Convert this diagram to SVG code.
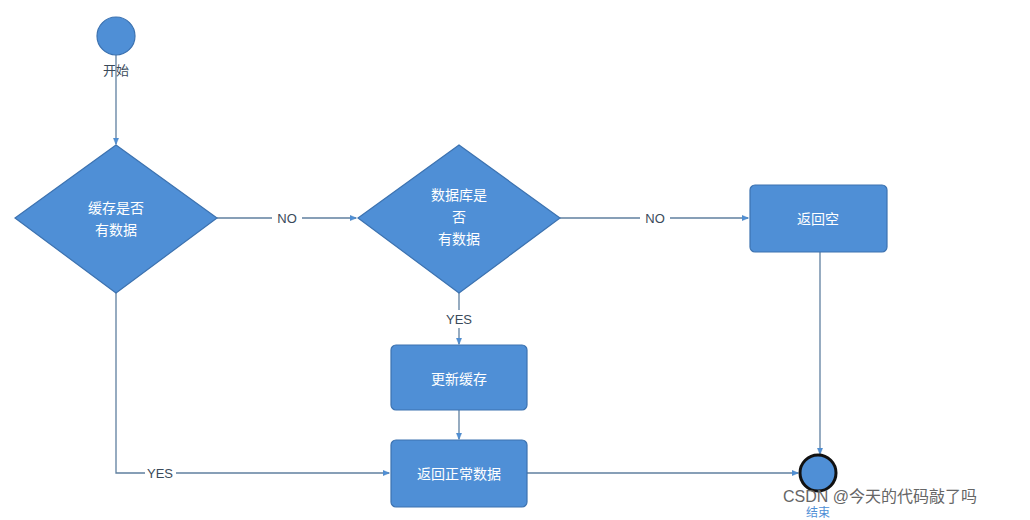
<svg xmlns="http://www.w3.org/2000/svg" width="1030" height="520" viewBox="0 0 1030 520">
<style>
.shape{fill:#4f8fd6;stroke:#3c72b0;stroke-width:1.2}
.lbl{font-family:"Liberation Sans","Noto Sans CJK SC",sans-serif;font-size:14px;fill:#ffffff;text-anchor:middle}
.dark{font-family:"Liberation Sans","Noto Sans CJK SC",sans-serif;font-size:13px;fill:#3a4a5a;text-anchor:middle}
.conn{fill:none;stroke:#5f7f9f;stroke-width:1.3}
</style>
<defs>
<marker id="arr" viewBox="0 0 10 10" refX="9" refY="5" markerWidth="7" markerHeight="7" orient="auto" markerUnits="userSpaceOnUse">
<path d="M0,1 L10,5 L0,9 Z" fill="#4f8fd6" stroke="#4f7fb0" stroke-width="0.5"/>
</marker>
</defs>
<rect width="1030" height="520" fill="#ffffff"/>
<g id="connectors">
<line class="conn" x1="116" y1="55" x2="116" y2="144" marker-end="url(#arr)"/>
<line class="conn" x1="217" y1="218" x2="272" y2="218"/>
<line class="conn" x1="302" y1="218" x2="356" y2="218" marker-end="url(#arr)"/>
<line class="conn" x1="560" y1="218" x2="640" y2="218"/>
<line class="conn" x1="670" y1="218" x2="748" y2="218" marker-end="url(#arr)"/>
<line class="conn" x1="459" y1="293" x2="459" y2="310"/>
<line class="conn" x1="459" y1="328" x2="459" y2="344" marker-end="url(#arr)"/>
<line class="conn" x1="459" y1="410" x2="459" y2="439" marker-end="url(#arr)"/>
<polyline class="conn" points="116,293 116,473 145,473"/>
<line class="conn" x1="176" y1="473" x2="389" y2="473" marker-end="url(#arr)"/>
<line class="conn" x1="527" y1="473" x2="798" y2="473" marker-end="url(#arr)"/>
<line class="conn" x1="820" y1="252" x2="820" y2="454" marker-end="url(#arr)"/>
<text class="dark" x="287" y="223">NO</text>
<text class="dark" x="655" y="223">NO</text>
<text class="dark" x="459" y="324">YES</text>
<text class="dark" x="160" y="478">YES</text>
</g>
<g id="start">
<circle class="shape" cx="116" cy="36" r="19"/>
<text class="dark" x="116" y="75">开始</text>
</g>
<g id="cache-check">
<polygon class="shape" points="116,145 217,218 116,293 15,218"/>
<text class="lbl" x="116" y="213">缓存是否</text>
<text class="lbl" x="116" y="235">有数据</text>
</g>
<g id="db-check">
<polygon class="shape" points="459,145 560,218 459,293 358,218"/>
<text class="lbl" x="459" y="200">数据库是</text>
<text class="lbl" x="459" y="222">否</text>
<text class="lbl" x="459" y="244">有数据</text>
</g>
<g id="return-empty">
<rect class="shape" x="750" y="185" width="137" height="67" rx="5"/>
<text class="lbl" x="818" y="224">返回空</text>
</g>
<g id="update-cache">
<rect class="shape" x="391" y="345" width="136" height="65" rx="5"/>
<text class="lbl" x="459" y="384">更新缓存</text>
</g>
<g id="return-data">
<rect class="shape" x="391" y="440" width="136" height="67" rx="5"/>
<text class="lbl" x="459" y="479">返回正常数据</text>
</g>
<g id="end">
<circle cx="818" cy="473" r="18" fill="#4f8fd6" stroke="#111111" stroke-width="3"/>
<text class="dark" x="818" y="517" style="fill:#4f8fd6;font-size:12px">结束</text>
</g>
<text x="783" y="502" font-family="Liberation Sans,'Noto Sans CJK SC',sans-serif" font-size="16" fill="#666666">CSDN @今天的代码敲了吗</text>
</svg>
